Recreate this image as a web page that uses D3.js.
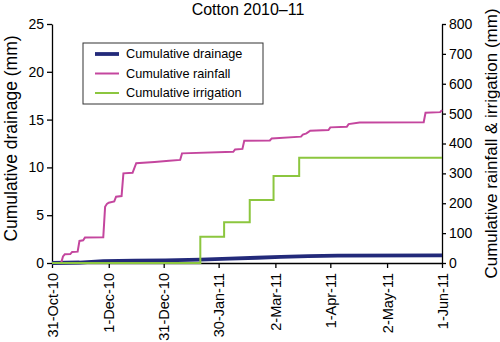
<!DOCTYPE html>
<html>
<head>
<meta charset="utf-8">
<script src="https://cdn.jsdelivr.net/npm/d3@7"></script>
<style>
  body { margin: 0; background: #fff; }
  svg text { font-family: "Liberation Sans", Arial, Helvetica, sans-serif; fill: #000; }
</style>
</head>
<body>
<svg id="chart" width="500" height="342"></svg>
<script>
// cumulative rainfall (mm, right axis)
const rainDates = ["2010-10-31", "2010-11-05", "2010-11-06", "2010-11-07", "2010-11-10", "2010-11-11",
    "2010-11-14", "2010-11-15", "2010-11-17", "2010-11-18", "2010-11-28", "2010-11-29", "2010-11-30",
    "2010-12-01", "2010-12-04", "2010-12-05", "2010-12-08", "2010-12-09", "2010-12-14", "2010-12-16",
    "2010-12-26", "2011-01-03", "2011-01-09", "2011-01-10", "2011-02-07", "2011-02-08", "2011-02-12",
    "2011-02-13", "2011-02-27", "2011-02-28", "2011-03-16", "2011-03-17", "2011-03-19", "2011-03-21",
    "2011-03-31", "2011-04-01", "2011-04-10", "2011-04-11", "2011-04-17", "2011-05-22", "2011-05-23",
    "2011-05-31", "2011-06-01"];
const rainValues = [0, 0, 22, 29, 30, 37,
    38, 74, 76, 85, 86, 188, 198,
    202, 206, 222, 224, 300, 302, 334,
    338, 342, 345, 367, 372, 380, 382,
    409, 410, 417, 423, 430, 434, 443,
    445, 454, 456, 465, 470, 471, 503,
    505, 512];

// cumulative irrigation (mm, right axis), stepwise
const irrigDates = ["2010-10-31", "2011-01-20", "2011-02-02", "2011-02-16", "2011-03-01", "2011-03-15", "2011-06-01"];
const irrigValues = [0, 88, 136, 211, 291, 352, 352];

// cumulative drainage (mm, left axis)
const drainDates = ["2010-10-31", "2010-11-15", "2010-11-28", "2010-12-15", "2011-01-01", "2011-01-20",
    "2011-02-05", "2011-02-20", "2011-03-05", "2011-03-20", "2011-04-05", "2011-06-01"];
const drainValues = [0, 0.05, 0.2, 0.25, 0.28, 0.35, 0.45, 0.55, 0.65, 0.72, 0.78, 0.8];

const xTickDates = ["2010-10-31", "2010-12-01", "2010-12-31", "2011-01-30", "2011-03-02", "2011-04-01", "2011-05-02", "2011-06-01"];
const leftTicks = [0, 5, 10, 15, 20, 25];
const rightTicks = [0, 100, 200, 300, 400, 500, 600, 700, 800];

const seriesNames = ["Cumulative drainage", "Cumulative rainfall", "Cumulative irrigation"];
const seriesColors = ["#232a7a", "#c4469e", "#8cc63f"];
const seriesWidths = [3.8, 2, 2];

const parse = d3.utcParse("%Y-%m-%d");
const zip = (ds, vs) => ds.map((d, i) => ({ date: parse(d), value: vs[i] }));

const svg = d3.select("#chart");
const margin = { left: 52, right: 58, top: 24, bottom: 79 };
const width = 500, height = 342;

const x = d3.scaleUtc()
    .domain([parse("2010-10-31"), parse("2011-06-01")])
    .range([margin.left, width - margin.right]);
const yLeft = d3.scaleLinear().domain([0, 25]).range([height - margin.bottom, margin.top]);
const yRight = d3.scaleLinear().domain([0, 800]).range([height - margin.bottom, margin.top]);

// axes
const xAxis = svg.append("g")
    .attr("transform", `translate(0,${height - margin.bottom})`)
    .call(d3.axisBottom(x)
        .tickValues(xTickDates.map(parse))
        .tickFormat(d3.utcFormat("%-d-%b-%y"))
        .tickSize(5)
        .tickSizeOuter(0));
xAxis.selectAll("text")
    .attr("transform", "rotate(-90)")
    .attr("text-anchor", "end")
    .attr("x", -10)
    .attr("y", 0)
    .attr("dy", "0.35em")
    .style("font-size", "14.5px");

const leftAxis = svg.append("g")
    .attr("transform", `translate(${margin.left},0)`)
    .call(d3.axisLeft(yLeft).tickValues(leftTicks).tickSize(5).tickPadding(3).tickSizeOuter(0));
leftAxis.selectAll("text").style("font-size", "14px");

const rightAxis = svg.append("g")
    .attr("transform", `translate(${width - margin.right},0)`)
    .call(d3.axisRight(yRight).tickValues(rightTicks).tickSize(4).tickPadding(3).tickSizeOuter(0));
rightAxis.selectAll("text").style("font-size", "14px");

svg.selectAll(".domain, .tick line").attr("stroke", "#000").attr("stroke-width", 1.3);

// series
svg.append("path")
    .datum(zip(drainDates, drainValues))
    .attr("fill", "none")
    .attr("stroke", seriesColors[0])
    .attr("stroke-width", seriesWidths[0])
    .attr("d", d3.line().x(d => x(d.date)).y(d => yLeft(d.value)));

svg.append("path")
    .datum(zip(rainDates, rainValues))
    .attr("fill", "none")
    .attr("stroke", seriesColors[1])
    .attr("stroke-width", seriesWidths[1])
    .attr("d", d3.line().x(d => x(d.date)).y(d => yRight(d.value)));

svg.append("path")
    .datum(zip(irrigDates, irrigValues))
    .attr("fill", "none")
    .attr("stroke", seriesColors[2])
    .attr("stroke-width", seriesWidths[2])
    .attr("d", d3.line().curve(d3.curveStepAfter).x(d => x(d.date)).y(d => yRight(d.value)));

// titles
svg.append("text")
    .attr("x", 248)
    .attr("y", 15)
    .attr("text-anchor", "middle")
    .style("font-size", "16px")
    .text("Cotton 2010\u201311");

svg.append("text")
    .attr("transform", `translate(17,${(margin.top + height - margin.bottom) / 2 - 5}) rotate(-90)`)
    .attr("text-anchor", "middle")
    .style("font-size", "17.5px")
    .text("Cumulative drainage (mm)");

svg.append("text")
    .attr("transform", `translate(497,${(margin.top + height - margin.bottom) / 2}) rotate(-90)`)
    .attr("text-anchor", "middle")
    .style("font-size", "17px")
    .text("Cumulative rainfall & irrigation (mm)");

// legend
const legend = svg.append("g").attr("transform", "translate(83,43)");
legend.append("rect")
    .attr("width", 180)
    .attr("height", 61)
    .attr("fill", "#fff")
    .attr("stroke", "#333")
    .attr("stroke-width", 1);

const rows = legend.selectAll(".row")
    .data(seriesNames)
    .enter()
    .append("g")
    .attr("class", "row")
    .attr("transform", (d, i) => `translate(0,${11 + i * 19.5})`);

rows.append("line")
    .attr("x1", 12)
    .attr("x2", 36)
    .attr("stroke", (d, i) => seriesColors[i])
    .attr("stroke-width", (d, i) => seriesWidths[i]);

rows.append("text")
    .attr("x", 43)
    .attr("dy", "0.35em")
    .style("font-size", "12.7px")
    .text(d => d);
</script>
</body>
</html>
